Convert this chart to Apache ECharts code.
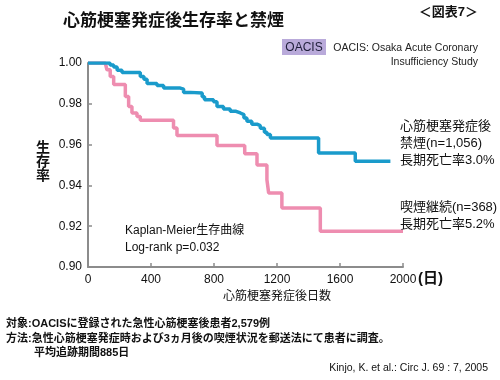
<!DOCTYPE html>
<html>
<head>
<meta charset="utf-8">
<script src="https://cdn.jsdelivr.net/npm/echarts@6/dist/echarts.min.js"></script>
<style>html,body{margin:0;padding:0;background:#fff;}#c{width:500px;height:380px;}</style>
</head>
<body>
<div id="c"></div>
<script>
// 禁煙 (quit smoking) group: days and survival
var quitDays = [0, 120, 140, 163, 185, 216, 311, 332, 355, 375, 438, 480, 586, 607, 650, 725, 740, 797, 819, 860, 903, 940, 967, 990, 1009, 1040, 1073, 1094, 1120, 1136, 1158, 1464, 1697, 1920];
var quitSurv = [1.000, 1.000, 0.999, 0.998, 0.9965, 0.9954, 0.9954, 0.9934, 0.992, 0.990, 0.989, 0.9877, 0.9872, 0.9856, 0.9853, 0.9835, 0.982, 0.981, 0.9787, 0.9775, 0.9763, 0.9755, 0.9747, 0.973, 0.9714, 0.970, 0.9693, 0.968, 0.966, 0.9649, 0.9632, 0.9559, 0.9518, 0.9518];
// 喫煙継続 (continued smoking) group
var smokeDays = [0, 110, 120, 141, 163, 237, 258, 279, 311, 332, 543, 565, 819, 995, 1073, 1136, 1147, 1231, 1475, 2000];
var smokeSurv = [1.000, 1.000, 0.9967, 0.9934, 0.9894, 0.9836, 0.9787, 0.9755, 0.9738, 0.9719, 0.9681, 0.9644, 0.9595, 0.9555, 0.950, 0.9428, 0.9363, 0.9289, 0.9175, 0.9175];

var xTicks = [0, 400, 800, 1200, 1600, 2000];
var yTicks = [0.90, 0.92, 0.94, 0.96, 0.98, 1.00];

function pairs(xs, ys) { return xs.map(function (x, i) { return [x, ys[i]]; }); }

var FONT = "'Liberation Sans', 'Noto Sans CJK JP', sans-serif";
var chart = echarts.init(document.getElementById('c'), null, { renderer: 'canvas' });

function txt(x, y, text, size, weight, align, fill) {
  return {
    type: 'text', z: 100,
    style: {
      x: x, y: y, text: text,
      font: (weight || 'normal') + ' ' + size + 'px ' + FONT,
      fill: fill || '#1a1a1a',
      textAlign: align || 'left', textVerticalAlign: 'middle'
    }
  };
}

chart.setOption({
  animation: false,
  backgroundColor: '#fff',
  grid: { left: 88, right: 97, top: 63, bottom: 113 },
  xAxis: {
    type: 'value', min: xTicks[0], max: xTicks[xTicks.length - 1], interval: 400,
    axisLine: { lineStyle: { color: '#8c8c8c', width: 2 } },
    axisTick: { inside: true, length: 4, lineStyle: { color: '#8c8c8c', width: 1.5 } },
    splitLine: { show: false },
    axisLabel: { color: '#111', fontSize: 12, fontFamily: FONT, margin: 7,
      formatter: function (v) { return String(v); } }
  },
  yAxis: {
    type: 'value', min: yTicks[0], max: yTicks[yTicks.length - 1], interval: 0.02,
    axisLine: { show: true, lineStyle: { color: '#8c8c8c', width: 2 } },
    axisTick: { show: true, inside: true, length: 4, lineStyle: { color: '#8c8c8c', width: 1.5 } },
    splitLine: { show: false },
    axisLabel: { color: '#111', fontSize: 12, fontFamily: FONT, margin: 6,
      formatter: function (v) { return v.toFixed(2); } }
  },
  series: [
    { type: 'line', step: 'end', showSymbol: false, data: pairs(smokeDays, smokeSurv),
      lineStyle: { color: '#ee8db0', width: 3.5 }, z: 2 },
    { type: 'line', step: 'end', showSymbol: false, data: pairs(quitDays, quitSurv),
      lineStyle: { color: '#1a9bcb', width: 3.5 }, z: 3 }
  ],
  graphic: [
    txt(63, 21, '心筋梗塞発症後生存率と禁煙', 17, 'bold', 'left', '#111'),
    txt(478, 12, '＜図表7＞', 13, 'bold', 'right', '#111'),
    { type: 'rect', z: 90, shape: { x: 282, y: 39, width: 44, height: 16 }, style: { fill: '#b9aada' } },
    txt(304, 47.5, 'OACIS', 12, 'normal', 'center', '#1f1f3a'),
    txt(478, 48.5, 'OACIS: Osaka Acute Coronary', 10.5, 'normal', 'right', '#222'),
    txt(478, 62.5, 'Insufficiency Study', 10.5, 'normal', 'right', '#222'),
    txt(43, 162, '生\n存\n率', 14, 'bold', 'center', '#111'),
    txt(400, 126, '心筋梗塞発症後', 13, 'normal', 'left', '#111'),
    txt(400, 143, '禁煙(n=1,056)', 13, 'normal', 'left', '#111'),
    txt(400, 160, '長期死亡率3.0%', 13, 'normal', 'left', '#111'),
    txt(400, 207, '喫煙継続(n=368)', 13, 'normal', 'left', '#111'),
    txt(400, 224, '長期死亡率5.2%', 13, 'normal', 'left', '#111'),
    txt(125, 231, 'Kaplan-Meier生存曲線', 12, 'normal', 'left', '#111'),
    txt(125, 248, 'Log-rank p=0.032', 12, 'normal', 'left', '#111'),
    txt(418, 279, '(日)', 15, 'bold', 'left', '#111'),
    txt(277, 297, '心筋梗塞発症後日数', 12, 'normal', 'center', '#111'),
    txt(6, 324, '対象:OACISに登録された急性心筋梗塞後患者2,579例', 11, 'bold', 'left', '#111'),
    txt(6, 339, '方法:急性心筋梗塞発症時および3ヵ月後の喫煙状況を郵送法にて患者に調査。', 11, 'bold', 'left', '#111'),
    txt(34, 353, '平均追跡期間885日', 11, 'bold', 'left', '#111'),
    txt(488, 368, 'Kinjo, K. et al.: Circ J. 69 : 7, 2005', 10.5, 'normal', 'right', '#111')
  ]
});
</script>
</body>
</html>
